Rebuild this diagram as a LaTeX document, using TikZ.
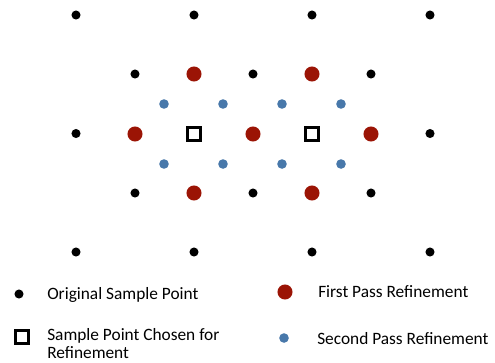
\documentclass[tikz,border=0pt]{standalone}
\usepackage{fontspec}
\setmainfont{Carlito}
\definecolor{passred}{RGB}{155,20,5}
\definecolor{passblue}{RGB}{72,120,170}
\usetikzlibrary{positioning}

\begin{document}
\begin{tikzpicture}[x=0.75pt,y=-0.75pt,
	orig/.style={circle,fill=black,inner sep=0pt,minimum size=6.8pt},
	first/.style={circle,fill=passred,inner sep=0pt,minimum size=11.3pt},
	second/.style={circle,fill=passblue,inner sep=0pt,minimum size=7.2pt},
	chosen/.style={rectangle,draw=black,line width=2.2pt,fill=white,inner sep=0pt,minimum size=9.8pt},
	lbl/.style={inner sep=0pt,font=\fontsize{13}{13.5}\selectfont,align=left}]
\useasboundingbox (0,0) rectangle (495,362);

% coarse grid of original samples
\foreach \i in {0,...,3}
	\foreach \j in {0,1,2}
		\node[orig] (o-\i-\j) at (76+118*\i,15+118.5*\j) {};
% original samples on the offset grid
\foreach \i in {0,1,2}
	\foreach \j in {0,1}
		\node[orig] (d-\i-\j) at (135+118*\i,74+119*\j) {};

% first pass
\foreach \x/\y [count=\n] in {194/74,312/74,135/134,253/134,371/134,194/193,312/193}
	\node[first] (f-\n) at (\x,\y) {};

% second pass
\foreach \i in {0,...,3}
	\foreach \j in {0,1}
		\node[second] (s-\i-\j) at (164+59*\i,104+60*\j) {};

% chosen samples
\node[chosen] (ch-1) at (194,134) {};
\node[chosen] (ch-2) at (312,134) {};

% legend
\node[orig] (k-orig) at (19,294) {};
\node[chosen] (k-chosen) at (22,337) {};
\node[first] (k-first) at (285,292) {};
\node[second] (k-second) at (284,338) {};

\node[lbl,anchor=west] (t-orig) at (47,295) {Original Sample Point};
\node[lbl,anchor=west] (t-chosen) at (47,344) {Sample Point Chosen for\\Refinement};
\node[lbl,anchor=west] (t-first) at (318,292) {First Pass Refinement};
\node[lbl,anchor=west] (t-second) at (317,339) {Second Pass Refinement};
\end{tikzpicture}
\end{document}
